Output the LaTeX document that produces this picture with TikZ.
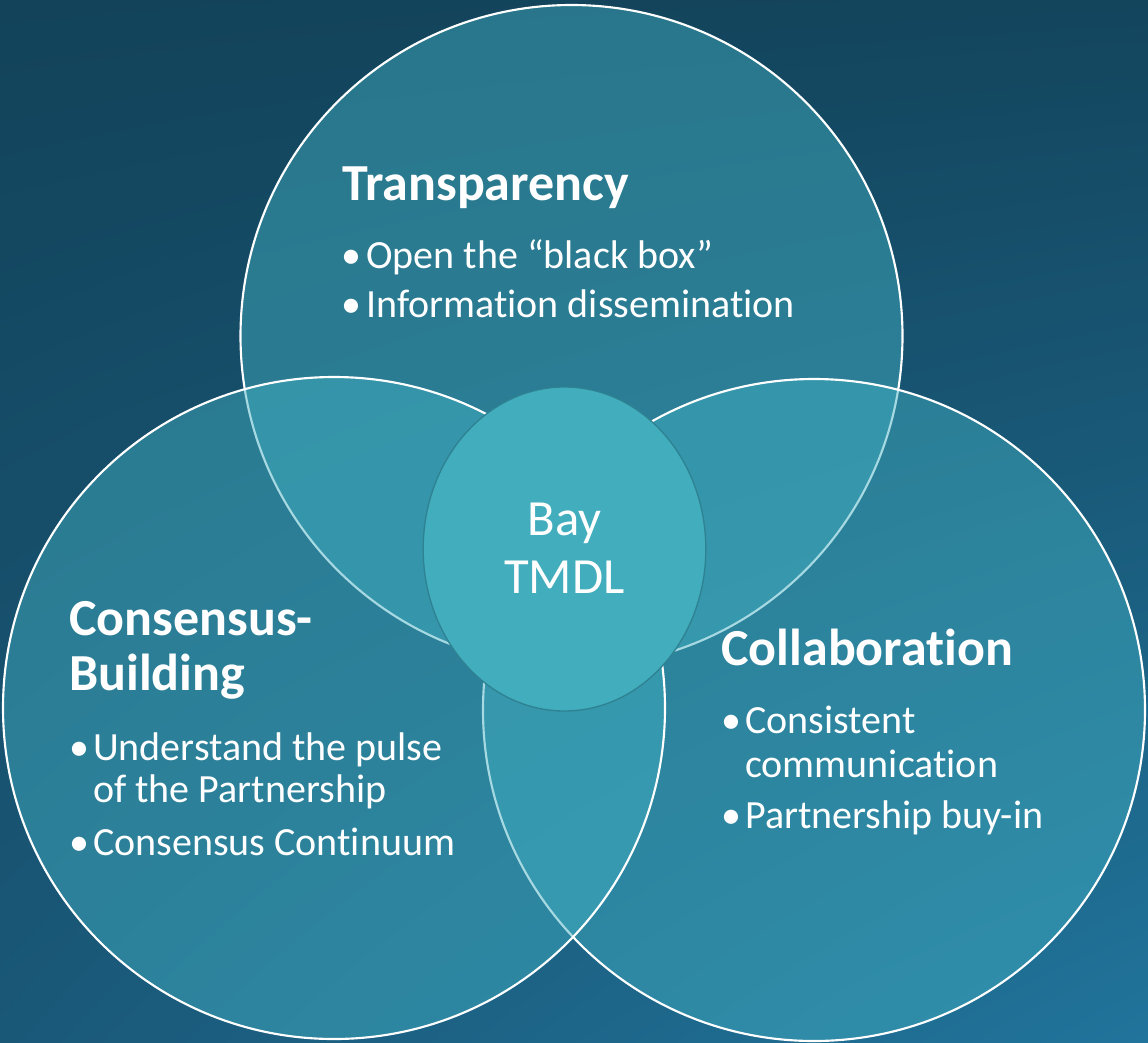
\documentclass[tikz,border=0pt]{standalone}
\usepackage{fontspec}
\setmainfont[Ligatures={NoCommon,NoRare}]{Carlito}
\usetikzlibrary{shapes.geometric,shadings}
\definecolor{bgUL}{HTML}{12435A}
\definecolor{bgUR}{HTML}{13455D}
\definecolor{bgLL}{HTML}{1A5878}
\definecolor{bgLR}{HTML}{21749C}
\definecolor{circfill}{HTML}{42B0C2}
\definecolor{corefill}{HTML}{41ADBD}
\definecolor{coreline}{HTML}{2E8292}
\tikzset{
  venn/.style={circle, draw=white, line width=1.6pt, fill=circfill, fill opacity=0.47, draw opacity=1, minimum size=496.5pt, inner sep=0pt, outer sep=0pt},
  core/.style={ellipse, draw=coreline, line width=1pt, fill=corefill, minimum width=212pt, minimum height=243pt, inner sep=0pt},
  ttl/.style={anchor=base west, inner sep=0pt, text=white, font=\fontsize{39}{47}\selectfont\bfseries},
  itm/.style={anchor=base west, inner sep=0pt, text=white, font=\fontsize{30}{36}\selectfont},
  bul/.style={anchor=base west, inner sep=0pt, text=white, font=\fontsize{30}{36}\selectfont},
  ctr/.style={anchor=base, inner sep=0pt, text=white, font=\fontsize{38}{46}\selectfont}
}
\begin{document}
\begin{tikzpicture}[x=0.75pt,y=-0.75pt]
\useasboundingbox (0,0) rectangle (1148,1042);
\shade[upper left=bgUL, upper right=bgUR, lower left=bgLL, lower right=bgLR] (0,0) rectangle (1148,1042);
\node[venn] (ctop) at (571.5,336) {};
\node[venn] (cright) at (814,710) {};
\node[venn] (cleft) at (334,708) {};
\node[core] (ccore) at (564.5,549) {};
% center
\node[ctr] (bay) at (564.5,535) {Bay};
\node[ctr] (tmdl) at (564.5,593) {TMDL};
% Transparency
\node[ttl] (ttrans) at (342,200) {Transparency};
\node[bul] (b1) at (341,268) {•};
\node[itm] (t1) at (366,268) {Open the “black box”};
\node[bul] (b2) at (341,317) {•};
\node[itm] (t2) at (366,317) {Information dissemination};
% Consensus
\node[ttl] (tcons1) at (69,635) {Consensus-};
\node[ttl] (tcons2) at (69,690) {Building};
\node[bul] (b3) at (69,760) {•};
\node[itm] (c1a) at (93,760) {Understand the pulse};
\node[itm] (c1b) at (93,802) {of the Partnership};
\node[bul] (b4) at (69,855) {•};
\node[itm] (c2) at (93,855) {Consensus Continuum};
% Collaboration
\node[ttl] (tcoll) at (721,665) {Collaboration};
\node[bul] (b5) at (721,733) {•};
\node[itm] (d1a) at (745,733) {Consistent};
\node[itm] (d1b) at (745,777) {communication};
\node[bul] (b6) at (721,828) {•};
\node[itm] (d2) at (745,828) {Partnership buy-in};
\end{tikzpicture}
\end{document}
